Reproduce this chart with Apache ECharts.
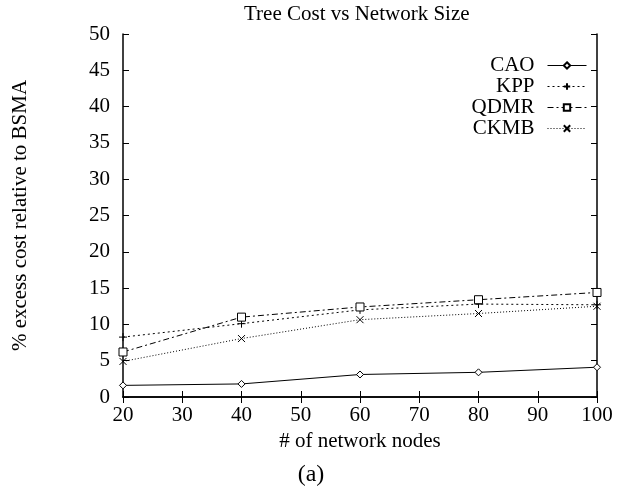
<!DOCTYPE html>
<html><head><meta charset="utf-8">
<script src="https://cdn.jsdelivr.net/npm/echarts@6/dist/echarts.min.js"></script>
<style>html,body{margin:0;padding:0;background:#fff}#c{width:622px;height:494px}</style>
</head><body><div id="c"></div>
<script>
const xValues = [20, 40, 60, 80, 100];
const caoValues = [1.6, 1.8, 3.1, 3.4, 4.1];
const kppValues = [8.25, 10.1, 12.0, 12.8, 12.7];
const qdmrValues = [6.2, 11.0, 12.4, 13.4, 14.4];
const ckmbValues = [4.9, 8.05, 10.65, 11.5, 12.5];
const seriesNames = ['CAO', 'KPP', 'QDMR', 'CKMB'];

const FONT = '"Liberation Serif", "DejaVu Serif", serif';
const pair = arr => xValues.map((x, i) => [x, arr[i]]);
const chart = echarts.init(document.getElementById('c'), null, {renderer: 'canvas'});

const axisCommon = {
  axisLine: {show: true, lineStyle: {color: '#000', width: 1.5}},
  axisTick: {show: true, inside: true, length: 6, lineStyle: {color: '#000', width: 1}},
  splitLine: {show: false},
  axisLabel: {color: '#000', fontFamily: FONT, fontSize: 21},
  nameTextStyle: {color: '#000', fontFamily: FONT, fontSize: 21}
};
const mkSeries = (name, data, symbol, size, dash) => ({
  name, type: 'line', data: pair(data), symbol, symbolSize: size,
  lineStyle: {color: '#000', width: 1, type: dash},
  itemStyle: {color: symbol === 'diamond' || symbol === 'rect' ? '#fff' : 'rgba(0,0,0,0)', borderColor: '#000', borderWidth: 1},
  emphasis: {disabled: true}, animation: false
});
chart.setOption({
  animation: false,
  grid: {left: 123, right: 25, top: 34, bottom: 97},
  graphic: [
    {type: 'text', left: 244, top: 4, style: {text: 'Tree Cost vs Network Size', font: '21px ' + FONT, fill: '#000'}},
    {type: 'text', x: 311, y: 475, style: {text: '(a)', font: '24px ' + FONT, fill: '#000', textAlign: 'center', textVerticalAlign: 'middle'}}
  ],
  legend: {
    orient: 'vertical', right: 30, top: 50, align: 'right',
    itemWidth: 39, itemHeight: 8, itemGap: 0,
    data: seriesNames,
    lineStyle: {width: 1},
    textStyle: {color: '#000', fontFamily: FONT, fontSize: 21, padding: [0, 8, 0, 0]}
  },
  xAxis: [
    Object.assign({}, axisCommon, {type: 'value', min: 20, max: 100, interval: 10, position: 'bottom',
      name: '# of network nodes', nameLocation: 'middle', nameGap: 31,
      axisLabel: Object.assign({}, axisCommon.axisLabel, {margin: 8})}),
    Object.assign({}, axisCommon, {type: 'value', min: 20, max: 100, interval: 10, position: 'top',
      axisLabel: {show: false}})
  ],
  yAxis: [
    Object.assign({}, axisCommon, {type: 'value', min: 0, max: 50, interval: 5, position: 'left',
      name: '% excess cost relative to BSMA', nameLocation: 'middle', nameGap: 92,
      axisLabel: Object.assign({}, axisCommon.axisLabel, {margin: 13})}),
    Object.assign({}, axisCommon, {type: 'value', min: 0, max: 50, interval: 5, position: 'right',
      axisLabel: {show: false}})
  ],
  series: [
    mkSeries('CAO', caoValues, 'diamond', 7, 'solid'),
    mkSeries('KPP', kppValues, 'path://M5,0L5,10M0,5L10,5', 8, [2, 3]),
    mkSeries('QDMR', qdmrValues, 'rect', 8, [6, 3, 2, 3]),
    mkSeries('CKMB', ckmbValues, 'path://M0,0L10,10M10,0L0,10', 7, [1, 2])
  ]
});
</script></body></html>
